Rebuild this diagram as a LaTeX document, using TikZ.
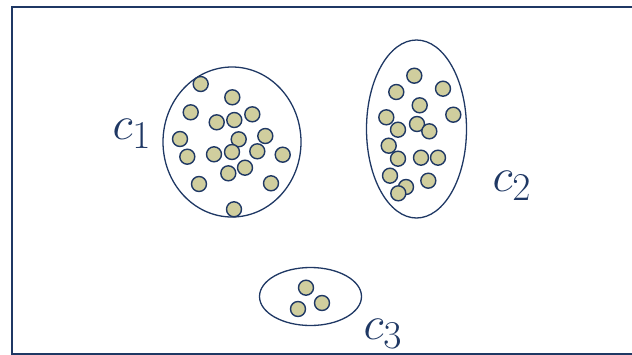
\documentclass[tikz,border=0pt]{standalone}
\usepackage{amsmath}
\usetikzlibrary{shapes.geometric}
\definecolor{navy}{RGB}{31,56,100}
\definecolor{khaki}{RGB}{208,206,158}
\newcommand{\clab}[1]{\scalebox{1.9}{\Huge$c_{#1}$}}
\begin{document}
\begin{tikzpicture}[x=1pt,y=-1pt,
  pt/.style={circle,draw=navy,fill=khaki,line width=1.4pt,minimum size=15pt,inner sep=0pt},
  clus/.style={ellipse,draw=navy,line width=1.3pt,inner sep=0pt},
  lab/.style={text=navy,inner sep=0pt}]
\useasboundingbox (0,0) rectangle (632,354);
\clip (0,0) rectangle (632,354);
\draw[navy,line width=2pt] (12,6.5) rectangle (640,353.5);
% clusters
\node[clus,minimum width=138pt,minimum height=150pt] (k1) at (232,142) {};
\node[clus,minimum width=100pt,minimum height=178pt] (k2) at (416.5,129) {};
\node[clus,minimum width=102pt,minimum height=58pt] (k3) at (310.5,296.5) {};
% cluster 1 points
\foreach \x/\y [count=\i] in {200.7/84,232.3/97.3,190.7/112.3,216.7/122.3,234.3/120,252.3/114.3,180/139,238.7/139.3,265.3/136,187.3/156.7,214/154.3,232/152,257.3/151.3,282.7/154.7,245/167.7,228.3/173.3,199/184,271/183.3,234/209.3}
  \node[pt] (a\i) at (\x,\y) {};
% cluster 2 points
\foreach \x/\y [count=\i] in {414.3/75.7,396.3/92,443/88.7,419.7/105.3,386.3/117.3,453.3/114.7,417/124,398/129.7,429.3/131.3,388.7/145.7,398/158.7,421/157.7,438/157.7,390/175.7,406/187,428.3/180.7,398.3/193.3}
  \node[pt] (b\i) at (\x,\y) {};
% cluster 3 points
\foreach \x/\y [count=\i] in {306/287.7,322/303,298/309}
  \node[pt] (d\i) at (\x,\y) {};
% labels
\node[lab] (l1) at (132,134) {\clab{1}};
\node[lab] (l2) at (512,186) {\clab{2}};
\node[lab] (l3) at (383,334) {\clab{3}};
\end{tikzpicture}
\end{document}
